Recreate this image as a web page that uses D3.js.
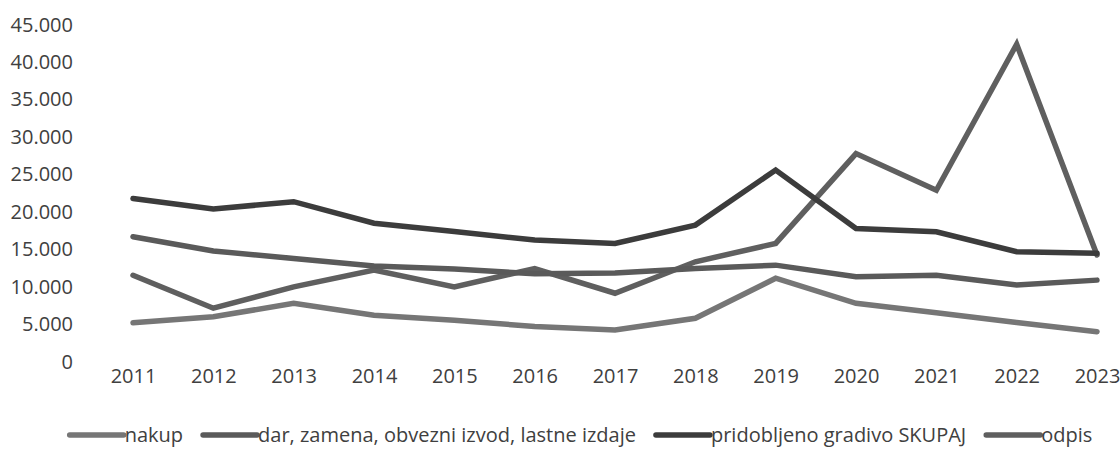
<!DOCTYPE html>
<html><head><meta charset="utf-8">
<script src="https://cdn.jsdelivr.net/npm/d3@7"></script>
<style>
html,body{margin:0;padding:0;background:#fff;}
svg text{font-family:"Open Sans","Noto Sans",sans-serif;fill:#404040;}
</style></head>
<body><svg id="c" width="1120" height="449"></svg>
<script>
const years = ["2011","2012","2013","2014","2015","2016","2017","2018","2019","2020","2021","2022","2023"];
const nakup = [5100, 5900, 7700, 6100, 5450, 4600, 4150, 5700, 11050, 7700, 6450, 5150, 3900];
const dar = [16600, 14700, 13700, 12700, 12300, 11650, 11750, 12350, 12800, 11250, 11450, 10150, 10800];
const skupaj = [21700, 20300, 21270, 18400, 17300, 16150, 15700, 18150, 25500, 17700, 17250, 14600, 14400];
const odpis = [11450, 7050, 9900, 12150, 9900, 12350, 9050, 13250, 15700, 27700, 22800, 42300, 14150];
const yTicks = [0,5000,10000,15000,20000,25000,30000,35000,40000,45000];
const seriesNames = ["nakup","dar, zamena, obvezni izvod, lastne izdaje","pridobljeno gradivo SKUPAJ","odpis"];
const seriesColors = ["#767676","#5a5a5a","#3c3c3c","#5f5f5f"];
const seriesData = [nakup, dar, skupaj, odpis];

const svg = d3.select("#c");
const x = d3.scalePoint().domain(years).range([133, 1097]);
const y = d3.scaleLinear().domain([0,45000]).range([361, 24]);
const fmt = v => d3.format(",")(v).replace(/,/g,".");

// y labels
const ya = svg.append("g").attr("transform","translate(73,0)")
  .call(d3.axisLeft(y).tickValues(yTicks).tickSize(0).tickPadding(0).tickFormat(fmt));
ya.select(".domain").remove();
ya.selectAll("text").style("font-size","20px").attr("fill","#404040").attr("dy","0.35em");

// x labels
const xa = svg.append("g").attr("transform","translate(0,369)")
  .call(d3.axisBottom(x).tickSize(0).tickPadding(0));
xa.select(".domain").remove();
xa.selectAll("text").style("font-size","20px").attr("fill","#404040").attr("dy","0.71em");

// lines (draw order: odpis, nakup, dar, skupaj)
const line = d3.line().x((d,i)=>x(years[i])).y(d=>y(d));
const order = [3,0,1,2];
order.forEach(k=>{
  svg.append("path").datum(seriesData[k]).attr("d",line)
    .attr("fill","none").attr("stroke",seriesColors[k]).attr("stroke-width",5.5)
    .attr("stroke-linejoin","miter").attr("stroke-linecap","round");
});

// legend
const lg = svg.append("g");
let cx = 0;
seriesNames.forEach((n,i)=>{
  const g = lg.append("g");
  g.append("line").attr("x1",2).attr("x2",56).attr("y1",0).attr("y2",0)
    .attr("stroke",seriesColors[i]).attr("stroke-width",5.5).attr("stroke-linecap","round");
  const t = g.append("text").attr("x",57).attr("y",0).attr("dy","0.35em")
    .style("font-size","20px").text(n);
  const w = 57 + t.node().getComputedTextLength();
  g.attr("transform",`translate(${cx},0)`);
  cx += w + 18;
});
const total = cx - 18;
lg.attr("transform",`translate(${(1120-total)/2+20},435)`);
</script></body></html>
